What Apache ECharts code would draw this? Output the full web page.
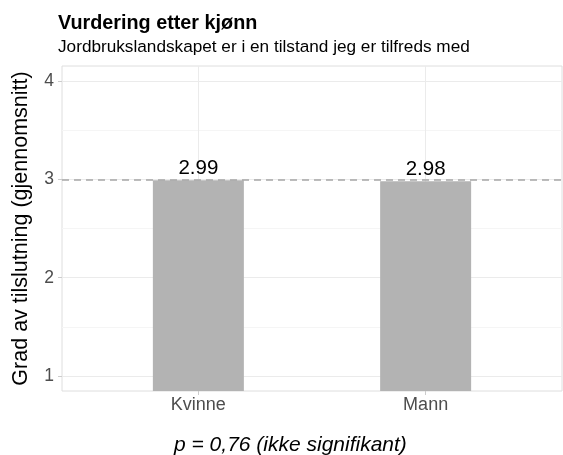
<!DOCTYPE html>
<html>
<head>
<meta charset="utf-8">
<script src="https://cdn.jsdelivr.net/npm/echarts@6/dist/echarts.min.js"></script>
<style>html,body{margin:0;padding:0;background:#fff}#c{width:563px;height:455px}</style>
</head>
<body>
<div id="c"></div>
<script>
const categories = ['Kvinne', 'Mann'];
const means = [2.99, 2.98];
const yTicks = [1, 2, 3, 4];
const yMinor = [1.5, 2.5, 3.5];
const refValue = 3;
const titleText = 'Vurdering etter kjønn';
const subtitleText = 'Jordbrukslandskapet er i en tilstand jeg er tilfreds med';
const yTitle = 'Grad av tilslutning (gjennomsnitt)';
const captionText = 'p = 0,76 (ikke signifikant)';

const catPos = categories.map((c, i) => i + 1);
const FONT = 'Liberation Sans, Arial, sans-serif';

const chart = echarts.init(document.getElementById('c'), null, {renderer: 'canvas'});
chart.setOption({
  animation: false,
  backgroundColor: '#fff',
  title: [
    {text: titleText, left: 53, top: 9, textStyle: {fontFamily: FONT, fontSize: 19.8, fontWeight: 'bold', color: '#000'}},
    {text: subtitleText, left: 53, top: 34, textStyle: {fontFamily: FONT, fontSize: 17.2, fontWeight: 'normal', color: '#000'}},
    {text: captionText, left: 169, top: 430, textStyle: {fontFamily: FONT, fontSize: 21, fontStyle: 'italic', fontWeight: 'normal', color: '#000'}}
  ],
  grid: {left: 62, right: 1, top: 66, bottom: 64, show: true, borderColor: '#dedede', borderWidth: 1, backgroundColor: 'transparent'},
  xAxis: {
    type: 'value', min: 0.4, max: 2.6,
    axisLine: {show: false},
    axisTick: {show: true, customValues: catPos, length: 4, lineStyle: {color: '#cccccc'}},
    axisLabel: {customValues: catPos, formatter: v => categories[Math.round(v) - 1], fontFamily: FONT, fontSize: 18, color: '#4d4d4d', margin: 5},
    splitLine: {show: false}
  },
  yAxis: {
    type: 'value', min: 0.85, max: 4.15,
    name: yTitle, nameLocation: 'middle', nameGap: 30,
    nameTextStyle: {fontFamily: FONT, fontSize: 21.5, color: '#000'},
    axisLine: {show: false},
    axisTick: {show: true, customValues: yTicks, length: 4, lineStyle: {color: '#cccccc'}},
    axisLabel: {customValues: yTicks, fontFamily: FONT, fontSize: 17.5, color: '#4d4d4d', margin: 8},
    splitLine: {show: false}
  },
  series: [
    {
      type: 'line', data: [], silent: true,
      markLine: {
        silent: true, symbol: 'none', z: 1, label: {show: false},
        data: [
          ...yTicks.map(v => ({yAxis: v, lineStyle: {color: '#ebebeb', width: 1, type: 'solid'}})),
          ...yMinor.map(v => ({yAxis: v, lineStyle: {color: '#f5f5f5', width: 1, type: 'solid'}})),
          ...catPos.map(v => ({xAxis: v, lineStyle: {color: '#ebebeb', width: 1, type: 'solid'}}))
        ]
      }
    },
    {
      type: 'bar', z: 2,
      data: catPos.map((x, i) => [x, means[i]]),
      barWidth: 91,
      itemStyle: {color: '#b3b3b3'},
      label: {show: true, position: 'top', distance: 1, formatter: p => p.value[1].toFixed(2), fontFamily: FONT, fontSize: 20.5, color: '#000'},
      markLine: {
        silent: true, symbol: 'none', z: 5, label: {show: false},
        data: [{yAxis: refValue}],
        lineStyle: {color: '#a6a6a6', width: 1.6, type: [7, 5]}
      }
    }
  ]
});
</script>
</body>
</html>
